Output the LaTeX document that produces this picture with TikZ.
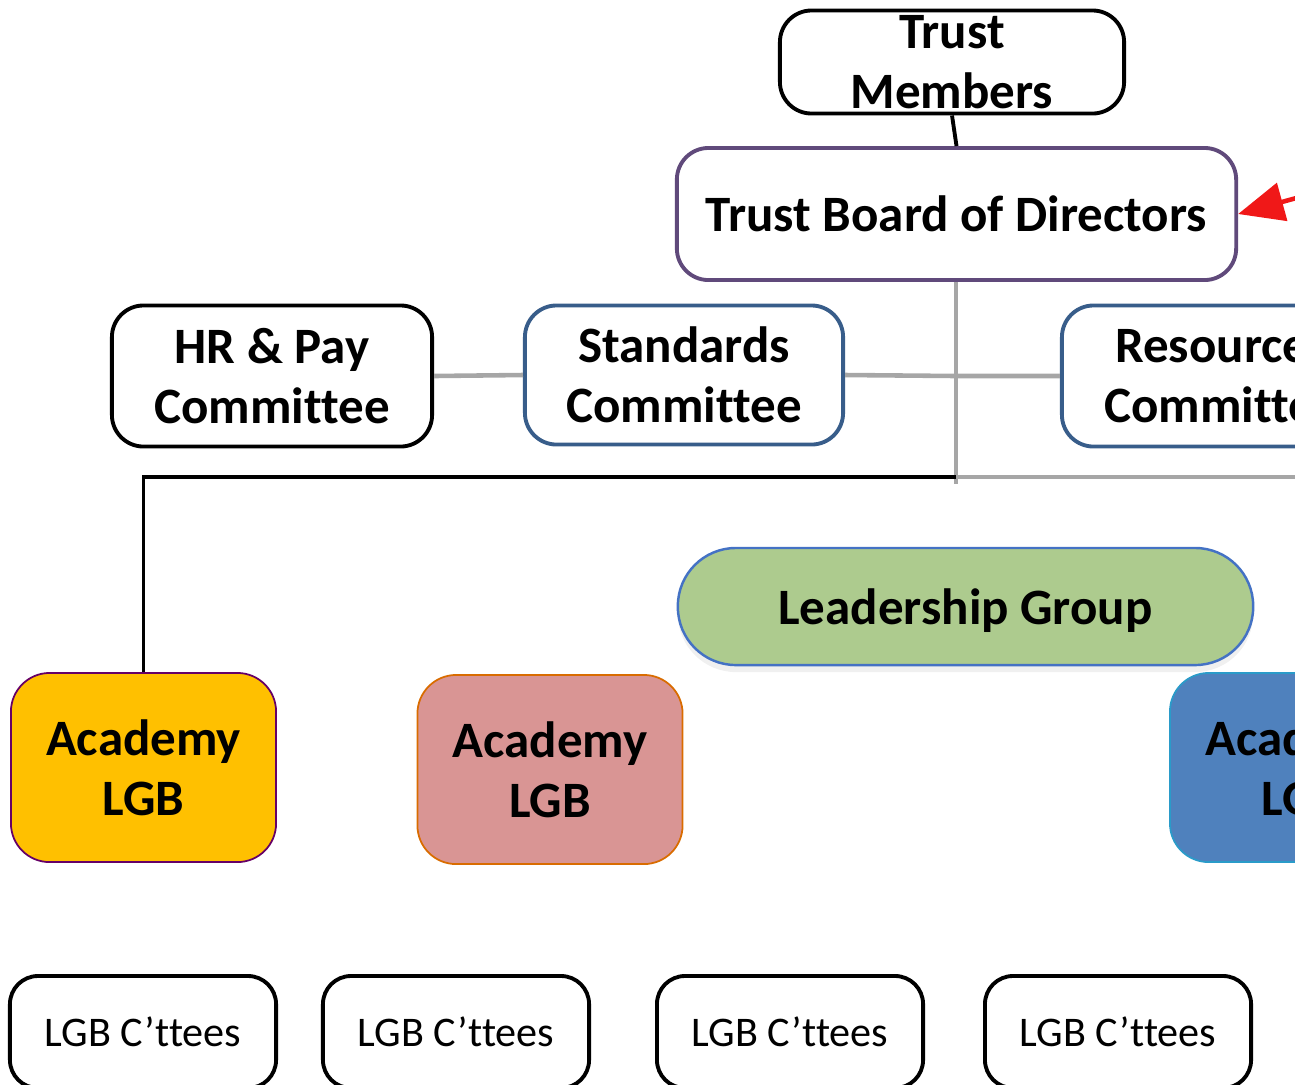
\documentclass[tikz,border=0pt]{standalone}
\usepackage{fontspec}
\setmainfont[Ligatures={NoCommon}]{Carlito}
\usepackage{tikz}
\usetikzlibrary{arrows.meta, shadows}

\definecolor{boardpurple}{RGB}{96, 74, 123}
\definecolor{cttblue}{RGB}{56, 93, 138}
\definecolor{linkgrey}{RGB}{166, 166, 166}
\definecolor{leadgreen}{RGB}{173, 203, 142}
\definecolor{leadedge}{RGB}{68, 114, 196}
\definecolor{acadyellow}{RGB}{255, 192, 0}
\definecolor{acadpink}{RGB}{217, 149, 148}
\definecolor{acadblue}{RGB}{79, 129, 189}
\definecolor{arrowred}{RGB}{240, 24, 24}

\tikzset{
  bigtext/.style={font=\fontsize{14.5}{17}\selectfont\bfseries, align=center},
  govbox/.style={bigtext, draw, line width=1.1pt, rounded corners=9pt, fill=white, inner sep=0pt},
  acadbox/.style={bigtext, line width=0.5pt, rounded corners=11pt, minimum width=2.65cm, minimum height=1.89cm, inner sep=0pt},
  cttee/.style={draw, line width=1.1pt, rounded corners=8pt, minimum width=2.66cm, minimum height=1.12cm, font=\fontsize{12}{14}\selectfont, inner sep=0pt},
  greylink/.style={draw=linkgrey, line width=1.3pt},
}

\begin{document}
\begin{tikzpicture}[x=0.01cm, y=-0.01cm]
  \useasboundingbox (0,0) rectangle (1295,1084);
  \clip (0,0) rectangle (1295,1084);

  % Top of the trust
  \node[govbox, minimum width=3.44cm, minimum height=1.03cm, text depth=0pt] (members) at (952,62) {Trust\\Members};
  \node[govbox, draw=boardpurple, minimum width=5.59cm, minimum height=1.32cm] (board) at (956.5,214) {Trust Board of Directors};
  \coordinate (offright) at (1300,197);
  \draw[arrowred, line width=1.3pt, -{Triangle[length=13pt, width=11pt]}] (offright) -- (board.east);
  \draw[line width=1.1pt] (members.south) -- (board.north);

  % Committees
  \node[govbox, minimum width=3.2cm, minimum height=1.41cm] (hrpay) at (272,376) {HR \& Pay\\Committee};
  \node[govbox, draw=cttblue, minimum width=3.18cm, minimum height=1.39cm] (standards) at (684,375) {Standards\\Committee};
  \node[govbox, draw=cttblue, minimum width=3.2cm, minimum height=1.41cm] (resources) at (1222,376) {Resources\\Committee};

  \coordinate (spine) at (956,376);
  \coordinate (branch) at (956,477);
  \coordinate (farright) at (1300,477);
  \draw[greylink] (hrpay.east) -- (standards.west);
  \draw[greylink] (standards.east) -- (spine) -- (resources.west);
  \draw[greylink] (board.south -| spine) -- ([yshift=-2pt]branch);
  \draw[greylink] (branch) -- (farright);

  % Leadership Group
  \node[bigtext, draw=leadedge, line width=0.7pt, fill=leadgreen, rounded corners=0.58cm, minimum width=5.75cm, minimum height=1.17cm, text depth=0pt, drop shadow={opacity=0.12, shadow xshift=0pt, shadow yshift=-2pt}] (leaders) at (965.5,606.5) {Leadership Group};

  % Academies
  \node[acadbox, draw=violet!80!black, fill=acadyellow] (acadA) at (143.5,767.5) {Academy\\LGB};
  \node[acadbox, draw=orange!85!black, fill=acadpink] (acadB) at (550,769.5) {Academy\\LGB};
  \node[acadbox, draw=cyan!60!teal, fill=acadblue] (acadC) at (1302.5,767.5) {Academy\\LGB};
  \draw[line width=1.1pt] (branch) -| (acadA.north);

  % LGB committees
  \node[cttee] (cttA) at (143,1032) {LGB C’ttees};
  \node[cttee] (cttB) at (456,1032) {LGB C’ttees};
  \node[cttee] (cttC) at (790,1032) {LGB C’ttees};
  \node[cttee] (cttD) at (1118,1032) {LGB C’ttees};
\end{tikzpicture}
\end{document}
